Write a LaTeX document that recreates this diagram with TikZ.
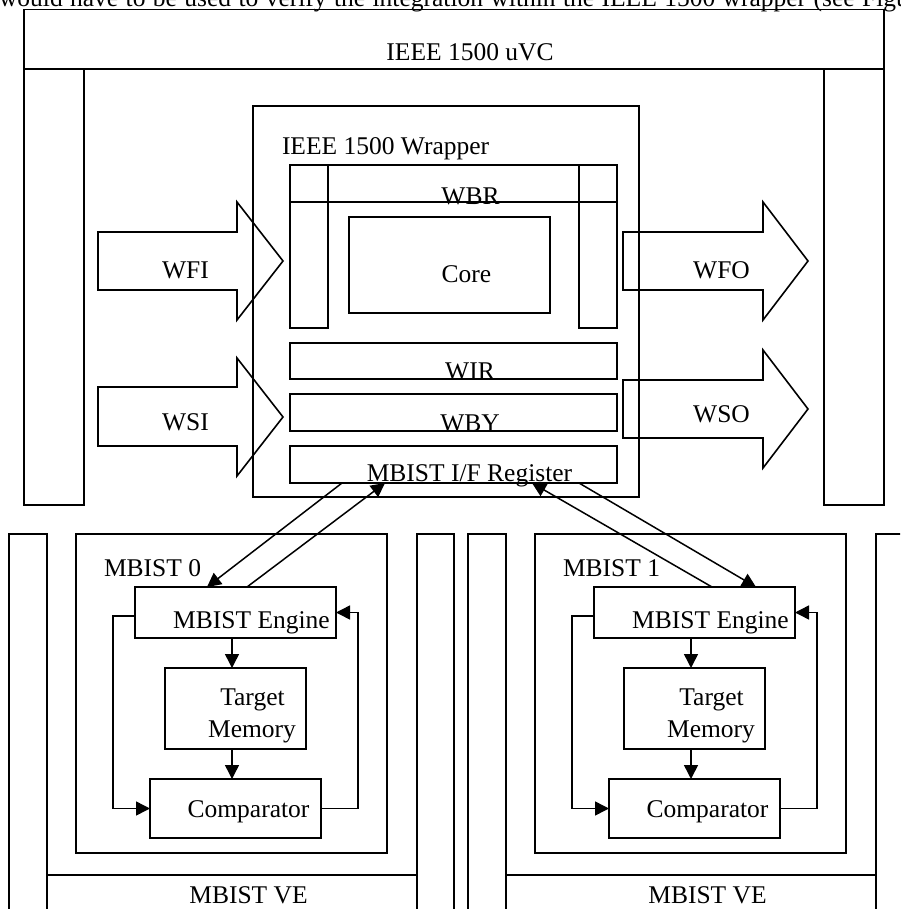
\documentclass[tikz,border=0pt]{standalone}
\usepackage{fontspec}
\setmainfont{Liberation Serif}
\usetikzlibrary{arrows.meta,calc}
\begin{document}
\begin{tikzpicture}[x=1pt,y=-1pt,
  line join=miter,
  blk/.style={draw, line width=1.5pt, inner sep=0pt, outer sep=0pt, anchor=north west},
  frame/.style={draw, line width=1.2pt},
  fat/.style={draw, line width=1.6pt},
  lbl/.style={inner sep=0pt, outer sep=0pt, anchor=base, font=\fontsize{25.5}{30}\selectfont},
  flow/.style={-{Triangle[length=14pt,width=14pt]}, line width=1.5pt},
]
\useasboundingbox (0,0) rectangle (900,909);
\clip (0,0) rectangle (900,909);

% running text above the figure (justified line, so wider spaces)
\node[lbl, anchor=base west] (intro) at (-1,7)
  {\spaceskip=7.4pt would have to be used to verify the integration within the IEEE 1500 wrapper (see Figure};

% uVC frame: title bar and two side pillars
\node[blk, line width=1.2pt, minimum width=860pt, minimum height=59.5pt] (uvc) at (24,9.5) {};
\node[blk, line width=1.2pt, minimum width=60pt, minimum height=436pt] (uvcL) at (24,69) {};
\node[blk, line width=1.2pt, minimum width=60pt, minimum height=436pt] (uvcR) at (824,69) {};
\node[lbl] at (470,61) {IEEE 1500 uVC};

% wrapper and its registers
\node[blk, minimum width=386pt, minimum height=391pt] (wrap) at (253,106) {};
\node[lbl, anchor=base west] at (282,155) {IEEE 1500 Wrapper};

\node[blk, minimum width=327pt, minimum height=37pt] (wbr) at (290,165) {};
\node[blk, minimum width=38pt, minimum height=163pt] (wbrL) at (290,165) {};
\node[blk, minimum width=38pt, minimum height=163pt] (wbrR) at (579,165) {};
\node[lbl] at (470.5,205) {WBR};

\node[blk, minimum width=201pt, minimum height=96pt] (core) at (349,217) {};
\node[lbl] at (466.5,282) {Core};

\node[blk, minimum width=327pt, minimum height=36pt] (wir) at (290,343) {};
\node[lbl] at (470,379) {WIR};
\node[blk, minimum width=327pt, minimum height=37pt] (wby) at (290,394) {};
\node[lbl] at (470,431) {WBY};
\node[blk, minimum width=327pt, minimum height=37pt] (ifreg) at (290,446) {};
\node[lbl] at (469.5,481) {MBIST I/F Register};

% wrapper terminals as block arrows
\draw[fat] (98,232) -- (237,232) -- (237,202) -- (283,261) -- (237,320) -- (237,290) -- (98,290) -- cycle;
\node[lbl] (wfi) at (185.5,278) {WFI};
\draw[fat] (98,387) -- (237,387) -- (237,358) -- (283,417) -- (237,476) -- (237,446) -- (98,446) -- cycle;
\node[lbl] (wsi) at (185.5,430) {WSI};
\draw[fat] (623,232) -- (763,232) -- (763,202) -- (808,261) -- (763,320) -- (763,290) -- (623,290) -- cycle;
\node[lbl] (wfo) at (721.5,278) {WFO};
\draw[fat] (623,380) -- (763,380) -- (763,350) -- (808,409) -- (763,468) -- (763,438) -- (623,438) -- cycle;
\node[lbl] (wso) at (721.5,422) {WSO};

% two MBIST verification environments
\foreach \i/\dx in {0/0,1/459} {
  \begin{scope}[xshift=\dx pt]
    \draw[frame] (9,920) -- (9,534) -- (47,534) -- (47,920);
    \draw[frame] (417,920) -- (417,534) -- (454,534) -- (454,920);
    \draw[frame] (47,875) -- (417,875);
    \node[lbl] at (248.5,903) {MBIST VE};

    \node[blk, minimum width=311pt, minimum height=319pt] (mb\i) at (76,534) {};
    \node[lbl, anchor=base west] at (104,576) {MBIST \i};

    \node[blk, minimum width=201pt, minimum height=51pt] (eng\i) at (135,587) {};
    \node[lbl] at (251.5,628) {MBIST Engine};
    \node[blk, minimum width=141pt, minimum height=81pt] (mem\i) at (165,668) {};
    \node[lbl] at (252.5,705) {Target};
    \node[lbl] at (252,737) {Memory};
    \node[blk, minimum width=171pt, minimum height=59pt] (cmp\i) at (150,779) {};
    \node[lbl] at (248.5,817) {Comparator};

    \draw[flow] ([xshift=-3.5pt]eng\i.south) -- ([xshift=-3.5pt]mem\i.north);
    \draw[flow] ([xshift=-3.5pt]mem\i.south) -- ([xshift=-3.5pt]cmp\i.north);
    \draw[flow] ([yshift=-3.5pt]eng\i.west) -- ++(-22,0) |- (cmp\i.west);
    \draw[flow] (cmp\i.east) -- ++(37,0) |- (eng\i.east);
  \end{scope}
}

% links between the I/F register and the engines
\draw[flow] ($(ifreg.south west)+(52,0)$) -- ($(eng0.north west)+(72,0)$);
\draw[flow] ($(eng0.north west)+(112,0)$) -- ($(ifreg.south west)+(95,0)$);
\draw[flow] ($(eng1.north west)+(118,0)$) -- ($(ifreg.south west)+(242,0)$);
\draw[flow] ($(ifreg.south east)+(-38,0)$) -- ($(eng1.north west)+(162,0)$);
\end{tikzpicture}
\end{document}
